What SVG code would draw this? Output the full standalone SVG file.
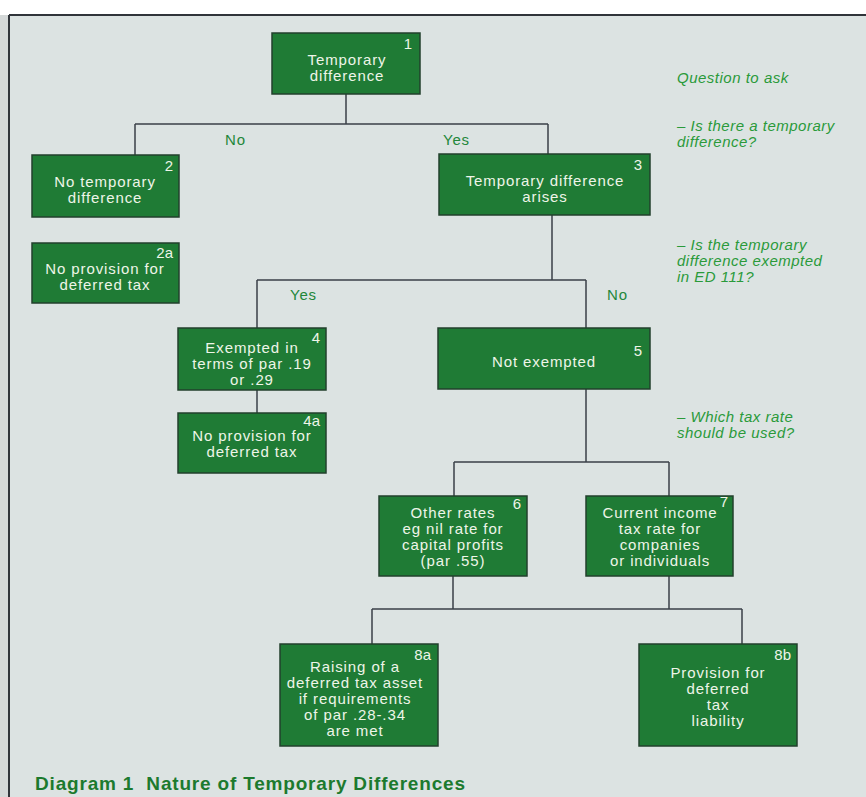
<svg xmlns="http://www.w3.org/2000/svg" width="866" height="797" viewBox="0 0 866 797">
<style>
.bx{fill:#1f7b35;stroke:#22402d;stroke-width:1.5}
.t{font-family:"Liberation Sans",Arial,sans-serif;font-size:15px;fill:#eef5e8;text-anchor:middle;letter-spacing:0.9px}
.n{font-family:"Liberation Sans",Arial,sans-serif;font-size:15px;fill:#eef5e8;text-anchor:end}
.q{font-family:"Liberation Sans",Arial,sans-serif;font-size:15px;font-style:italic;fill:#2a9a3a;letter-spacing:0.5px}
.lb{font-family:"Liberation Sans",Arial,sans-serif;font-size:15px;fill:#23873a;letter-spacing:0.8px}
.c{fill:none;stroke:#3a4048;stroke-width:1.5}
</style>
<rect x="0" y="0" width="866" height="797" fill="#ffffff"/>
<rect x="0" y="15" width="9" height="782" fill="#d4d8d8"/>
<rect x="9" y="15" width="857" height="782" fill="#dce3e2"/>
<path d="M9 15H866M9 15V797" fill="none" stroke="#30343a" stroke-width="2"/>

<g id="connectors">
<path class="c" d="M346 94V124M135 124H548M135 124V155M548 124V154"/>
<path class="c" d="M552 215V280M257 280H586M257 280V328M586 280V328"/>
<path class="c" d="M257 390V413"/>
<path class="c" d="M586 389V462M454 462H669M454 462V496M669 462V496"/>
<path class="c" d="M453 576V609M669 576V609M372 609H742M372 609V644M742 609V644"/>
<text class="lb" x="225" y="145">No</text>
<text class="lb" x="443" y="145">Yes</text>
<text class="lb" x="290" y="300">Yes</text>
<text class="lb" x="607" y="300">No</text>
</g>

<g id="node1">
<rect class="bx" x="272" y="33" width="148" height="61"/>
<text class="n" x="412" y="49">1</text>
<text class="t" x="347" y="65">Temporary</text>
<text class="t" x="347" y="81">difference</text>
</g>
<g id="node2">
<rect class="bx" x="32" y="155" width="147" height="62"/>
<text class="n" x="173" y="171">2</text>
<text class="t" x="105" y="187">No temporary</text>
<text class="t" x="105" y="203">difference</text>
</g>
<g id="node2a">
<rect class="bx" x="32" y="243" width="147" height="60"/>
<text class="n" x="173" y="258">2a</text>
<text class="t" x="105" y="274">No provision for</text>
<text class="t" x="105" y="290">deferred tax</text>
</g>
<g id="node3">
<rect class="bx" x="439" y="154" width="211" height="61"/>
<text class="n" x="642" y="170">3</text>
<text class="t" x="545" y="186">Temporary difference</text>
<text class="t" x="545" y="202">arises</text>
</g>
<g id="node4">
<rect class="bx" x="178" y="328" width="148" height="62"/>
<text class="n" x="320" y="343">4</text>
<text class="t" x="252" y="353">Exempted in</text>
<text class="t" x="252" y="369">terms of par .19</text>
<text class="t" x="252" y="385">or .29</text>
</g>
<g id="node4a">
<rect class="bx" x="178" y="413" width="148" height="60"/>
<text class="n" x="320" y="426">4a</text>
<text class="t" x="252" y="441">No provision for</text>
<text class="t" x="252" y="457">deferred tax</text>
</g>
<g id="node5">
<rect class="bx" x="438" y="328" width="212" height="61"/>
<text class="n" x="642" y="356">5</text>
<text class="t" x="544" y="367">Not exempted</text>
</g>
<g id="node6">
<rect class="bx" x="379" y="496" width="148" height="80"/>
<text class="n" x="521" y="509">6</text>
<text class="t" x="453" y="518">Other rates</text>
<text class="t" x="453" y="534">eg nil rate for</text>
<text class="t" x="453" y="550">capital profits</text>
<text class="t" x="453" y="566">(par .55)</text>
</g>
<g id="node7">
<rect class="bx" x="586" y="496" width="147" height="80"/>
<text class="n" x="728" y="507">7</text>
<text class="t" x="660" y="518">Current income</text>
<text class="t" x="660" y="534">tax rate for</text>
<text class="t" x="660" y="550">companies</text>
<text class="t" x="660" y="566">or individuals</text>
</g>
<g id="node8a">
<rect class="bx" x="280" y="644" width="158" height="102"/>
<text class="n" x="431" y="660">8a</text>
<text class="t" x="355" y="672">Raising of a</text>
<text class="t" x="355" y="688">deferred tax asset</text>
<text class="t" x="355" y="704">if requirements</text>
<text class="t" x="355" y="720">of par .28-.34</text>
<text class="t" x="355" y="736">are met</text>
</g>
<g id="node8b">
<rect class="bx" x="639" y="644" width="158" height="102"/>
<text class="n" x="791" y="660">8b</text>
<text class="t" x="718" y="678">Provision for</text>
<text class="t" x="718" y="694">deferred</text>
<text class="t" x="718" y="710">tax</text>
<text class="t" x="718" y="726">liability</text>
</g>

<g id="questions">
<text class="q" x="677" y="83">Question to ask</text>
<text class="q" x="677" y="131">– Is there a temporary</text>
<text class="q" x="677" y="147">difference?</text>
<text class="q" x="677" y="250">– Is the temporary</text>
<text class="q" x="677" y="266">difference exempted</text>
<text class="q" x="677" y="282">in ED 111?</text>
<text class="q" x="677" y="422">– Which tax rate</text>
<text class="q" x="677" y="438">should be used?</text>
</g>

<text id="caption" xml:space="preserve" x="35" y="790" font-family="'Liberation Sans',Arial,sans-serif" font-size="19" font-weight="bold" fill="#1c7a2e" textLength="430" lengthAdjust="spacing">Diagram 1  Nature of Temporary Differences</text>
</svg>
